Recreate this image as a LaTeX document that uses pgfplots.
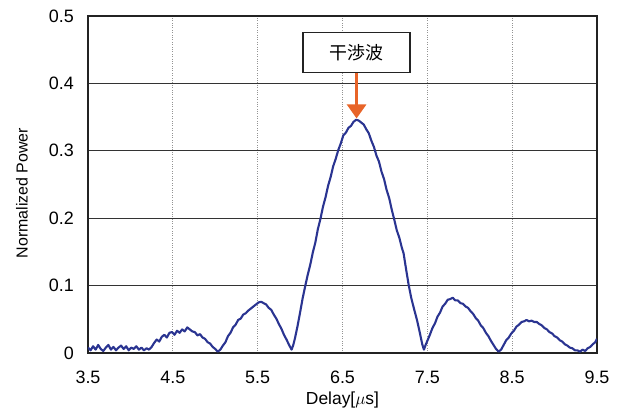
\documentclass[border=0pt]{standalone}
\usepackage{pgfplots}
\pgfplotsset{compat=1.18}
\usepackage{fontspec}
\setmainfont{Liberation Sans}
\newfontfamily\cjk{Noto Sans CJK JP}
\usetikzlibrary{arrows.meta}
\definecolor{curveblue}{RGB}{42,52,145}
\definecolor{arroworange}{RGB}{232,100,40}
\definecolor{framegray}{RGB}{35,35,35}
\begin{document}
\begin{tikzpicture}
\path[use as bounding box] (-88bp,-61bp) rectangle (530bp,353bp);
\begin{axis}[
  scale only axis, width=509bp, height=337bp,
  at={(0,0)}, anchor=south west,
  xmin=3.5, xmax=9.5, ymin=0, ymax=0.5,
  xtick={3.5,4.5,5.5,6.5,7.5,8.5,9.5},
  xticklabels={3.5,4.5,5.5,6.5,7.5,8.5,9.5},
  ytick={0,0.1,0.2,0.3,0.4,0.5},
  yticklabels={0,0.1,0.2,0.3,0.4,0.5},
  major tick length=0pt,
  axis line style={draw=framegray, line width=1.6bp},
  xmajorgrids, ymajorgrids,
  x grid style={draw=gray!85, dotted, line width=0.9bp},
  y grid style={draw=black!80, line width=1bp},
  ticklabel style={font=\fontsize{18}{21}\selectfont, inner sep=0pt},
  yticklabel style={anchor=east, xshift=-14bp},
  xticklabel style={anchor=north, yshift=-18bp},
  xlabel={Delay[$\mu$s]},
  ylabel={Normalized Power},
  label style={font=\fontsize{16}{19}\selectfont},
  xlabel style={at={(axis description cs:0.5,-0.1395)}, anchor=center, font=\fontsize{17.5}{20}\selectfont},
  ylabel style={at={(axis description cs:-0.1297,0.475)}, anchor=center},
  /pgf/number format/assume math mode=true,
]
\addplot[curveblue, line width=2.1bp, line join=round] coordinates {
(3.50,0.008) (3.53,0.004) (3.56,0.010) (3.59,0.005) (3.62,0.012) (3.65,0.006) (3.68,0.003) (3.71,0.008)
(3.74,0.012) (3.77,0.005) (3.80,0.009) (3.83,0.004) (3.86,0.008) (3.89,0.011) (3.92,0.006) (3.95,0.010)
(3.98,0.004) (4.01,0.008) (4.04,0.006) (4.07,0.010) (4.10,0.005) (4.13,0.008) (4.16,0.004) (4.19,0.007)
(4.22,0.005) (4.25,0.009) (4.28,0.015) (4.31,0.020) (4.34,0.017) (4.37,0.024) (4.40,0.027) (4.43,0.023)
(4.46,0.030) (4.49,0.031) (4.52,0.027) (4.55,0.033) (4.58,0.030) (4.61,0.035) (4.64,0.032) (4.67,0.038)
(4.70,0.035) (4.73,0.032) (4.76,0.031) (4.79,0.026) (4.82,0.028) (4.85,0.023) (4.88,0.021) (4.91,0.016)
(4.94,0.014) (4.97,0.009) (5.00,0.006) (5.03,0.002) (5.06,0.005) (5.09,0.011) (5.12,0.016) (5.15,0.025)
(5.18,0.030) (5.21,0.038) (5.24,0.042) (5.27,0.049) (5.30,0.051) (5.33,0.057) (5.36,0.059) (5.39,0.063)
(5.42,0.066) (5.45,0.069) (5.48,0.072) (5.51,0.075) (5.54,0.076) (5.57,0.074) (5.60,0.072) (5.63,0.067)
(5.66,0.064) (5.69,0.057) (5.72,0.051) (5.75,0.043) (5.78,0.036) (5.81,0.027) (5.84,0.020) (5.87,0.012)
(5.90,0.005) (5.92,0.012) (5.94,0.022) (5.97,0.040) (6.00,0.060) (6.03,0.081) (6.06,0.099) (6.09,0.116)
(6.12,0.131) (6.15,0.149) (6.18,0.164) (6.21,0.184) (6.24,0.199) (6.27,0.217) (6.30,0.231) (6.33,0.248)
(6.36,0.261) (6.39,0.277) (6.42,0.288) (6.45,0.301) (6.48,0.311) (6.51,0.323) (6.54,0.327) (6.57,0.334)
(6.60,0.337) (6.63,0.343) (6.66,0.346) (6.69,0.345) (6.72,0.342) (6.75,0.339) (6.78,0.332) (6.81,0.326)
(6.84,0.315) (6.87,0.306) (6.90,0.293) (6.93,0.284) (6.96,0.269) (6.99,0.258) (7.02,0.242) (7.05,0.230)
(7.08,0.213) (7.11,0.198) (7.14,0.182) (7.17,0.171) (7.20,0.156) (7.22,0.148) (7.25,0.124) (7.28,0.101)
(7.31,0.082) (7.34,0.067) (7.38,0.048) (7.41,0.031) (7.44,0.013) (7.46,0.005) (7.48,0.012) (7.50,0.018)
(7.53,0.027) (7.56,0.037) (7.59,0.044) (7.62,0.054) (7.65,0.060) (7.68,0.069) (7.71,0.073) (7.74,0.079)
(7.77,0.080) (7.80,0.082) (7.83,0.078) (7.86,0.078) (7.89,0.074) (7.92,0.073) (7.95,0.069) (7.98,0.067)
(8.01,0.062) (8.04,0.058) (8.07,0.052) (8.10,0.048) (8.13,0.041) (8.16,0.037) (8.19,0.030) (8.22,0.025)
(8.25,0.018) (8.28,0.012) (8.31,0.006) (8.34,0.002) (8.37,0.005) (8.40,0.012) (8.43,0.019) (8.46,0.023)
(8.49,0.029) (8.52,0.033) (8.55,0.039) (8.58,0.042) (8.61,0.046) (8.64,0.047) (8.67,0.049) (8.70,0.047)
(8.73,0.048) (8.76,0.046) (8.79,0.046) (8.82,0.043) (8.85,0.041) (8.88,0.037) (8.91,0.035) (8.94,0.031)
(8.97,0.029) (9.00,0.025) (9.03,0.023) (9.06,0.019) (9.09,0.017) (9.12,0.013) (9.15,0.011) (9.18,0.008)
(9.21,0.007) (9.24,0.004) (9.27,0.004) (9.30,0.002) (9.33,0.005) (9.36,0.003) (9.39,0.007) (9.42,0.009)
(9.45,0.013) (9.48,0.016) (9.50,0.021)
};
\draw[arroworange, line width=2.8bp, -{Triangle[width=19bp,length=14bp]}]
  (axis cs:6.666,0.416) -- (axis cs:6.666,0.348);
\node[draw=framegray, line width=1.3bp, fill=white, minimum width=107bp, minimum height=40bp,
  inner sep=0pt, font=\cjk\fontsize{18}{18}\selectfont] at (axis cs:6.666,0.4455) {干渉波};
\end{axis}
\end{tikzpicture}
\end{document}
